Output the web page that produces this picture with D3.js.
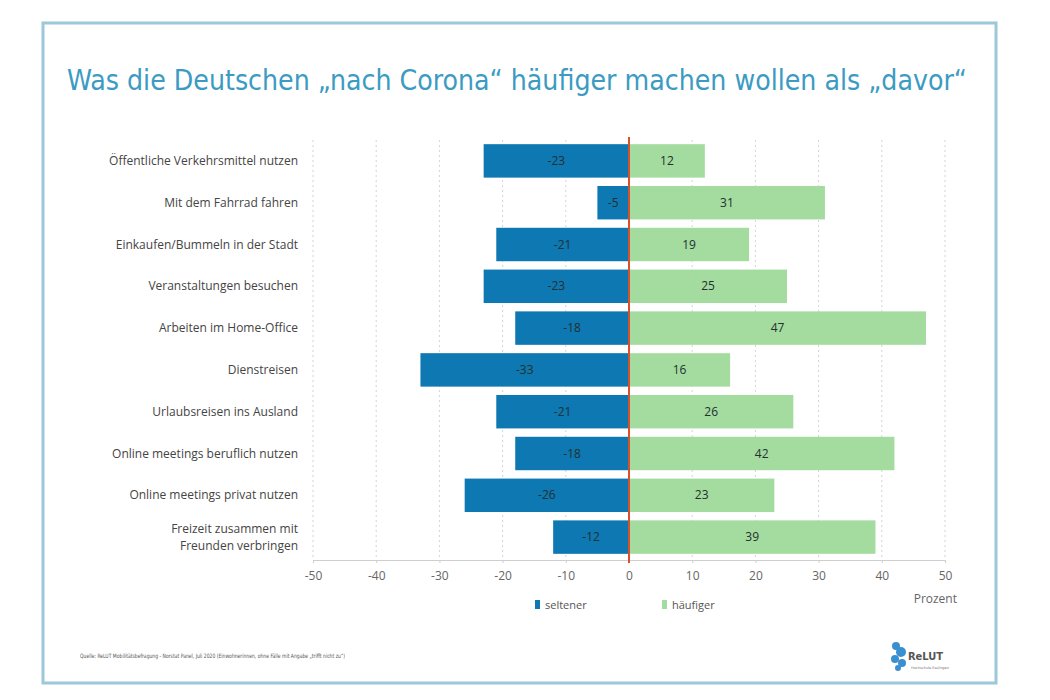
<!DOCTYPE html>
<html><head><meta charset="utf-8">
<script src="https://cdn.jsdelivr.net/npm/d3@7"></script>
<style>body{margin:0;background:#fff;} svg{display:block;}</style>
</head><body>
<svg id="c" width="1050" height="700"></svg>
<script>
const categories = [
  "Öffentliche Verkehrsmittel nutzen",
  "Mit dem Fahrrad fahren",
  "Einkaufen/Bummeln in der Stadt",
  "Veranstaltungen besuchen",
  "Arbeiten im Home-Office",
  "Dienstreisen",
  "Urlaubsreisen ins Ausland",
  "Online meetings beruflich nutzen",
  "Online meetings privat nutzen",
  "Freizeit zusammen mit|Freunden verbringen"
];
const seltener = [-23, -5, -21, -23, -18, -33, -21, -18, -26, -12];
const haeufiger = [12, 31, 19, 25, 47, 16, 26, 42, 23, 39];
const xTicks = [-50, -40, -30, -20, -10, 0, 10, 20, 30, 40, 50];
const seriesNames = ["seltener", "häufiger"];
const title = "Was die Deutschen „nach Corona“ häufiger machen wollen als „davor“";
const source = "Quelle: ReLUT Mobilitätsbefragung - Norstat Panel, Juli 2020 (Einwohnerinnen, ohne Fälle mit Angabe „trifft nicht zu“)";

const colors = {seltener: "#0d78b1", haeufiger: "#a4dca0"};
const svg = d3.select("#c");

// frame
svg.append("rect").attr("x", 43).attr("y", 23).attr("width", 953).attr("height", 660)
  .attr("fill", "#fff").attr("stroke", "#9cc8d8").attr("stroke-width", 3);

svg.append("text").attr("x", 517).attr("y", 90).attr("text-anchor", "middle")
  .attr("font-family", "DejaVu Sans Condensed, DejaVu Sans").attr("font-size", 28)
  .attr("textLength", 900).attr("lengthAdjust", "spacingAndGlyphs")
  .attr("fill", "#3b9bc2").text(title);

const x = d3.scaleLinear().domain([-50, 50]).range([313, 945]);
const y = d3.scaleBand().domain(d3.range(categories.length)).range([140, 558]).paddingInner(0.2).paddingOuter(0.1);

// gridlines
svg.append("g").selectAll("line").data(xTicks.filter(d => d !== 0)).join("line")
  .attr("x1", d => x(d)).attr("x2", d => x(d)).attr("y1", 140).attr("y2", 560)
  .attr("stroke", "#d4d4d4").attr("stroke-width", 1).attr("stroke-dasharray", "2,3");

// axis
const axis = svg.append("g").attr("transform", "translate(0,560)")
  .call(d3.axisBottom(x).tickValues(xTicks).tickFormat(d => String(d)).tickSize(3).tickPadding(8));
axis.select(".domain").attr("stroke", "#cfcfcf");
axis.selectAll(".tick line").attr("stroke", "#cfcfcf");
axis.selectAll("text").attr("font-family", "Open Sans, sans-serif").attr("font-size", 12).attr("fill", "#666");

// bars
const rows = categories.map((c, i) => ({i, c, s: seltener[i], h: haeufiger[i]}));
svg.append("g").selectAll("rect").data(rows).join("rect")
  .attr("x", d => x(d.s)).attr("width", d => x(0) - x(d.s))
  .attr("y", d => y(d.i)).attr("height", y.bandwidth()).attr("fill", colors.seltener);
svg.append("g").selectAll("rect").data(rows).join("rect")
  .attr("x", x(0)).attr("width", d => x(d.h) - x(0))
  .attr("y", d => y(d.i)).attr("height", y.bandwidth()).attr("fill", colors.haeufiger);

// bar labels
const lab = svg.append("g").attr("font-family", "Open Sans, sans-serif").attr("font-size", 12)
  .attr("text-anchor", "middle").attr("fill", "#22302f");
lab.selectAll("text.s").data(rows).join("text").attr("class", "s")
  .attr("x", d => x(d.s / 2)).attr("y", d => y(d.i) + y.bandwidth() / 2 + 4).text(d => d.s);
lab.selectAll("text.h").data(rows).join("text").attr("class", "h")
  .attr("x", d => x(d.h / 2)).attr("y", d => y(d.i) + y.bandwidth() / 2 + 4).text(d => d.h);

// category labels
const cl = svg.append("g").attr("font-family", "Open Sans, sans-serif").attr("font-size", 12)
  .attr("text-anchor", "end").attr("fill", "#444");
rows.forEach(d => {
  const parts = d.c.split("|");
  const cy = y(d.i) + y.bandwidth() / 2;
  const t = cl.append("text").attr("x", 298).attr("y", cy + 4 - (parts.length - 1) * 8);
  parts.forEach((p, k) => t.append("tspan").attr("x", 298).attr("dy", k ? 17 : 0).text(p));
});

// zero line
svg.append("line").attr("x1", x(0)).attr("x2", x(0)).attr("y1", 137).attr("y2", 563)
  .attr("stroke", "#d9512c").attr("stroke-width", 2);

// Prozent
svg.append("text").attr("x", 957).attr("y", 603).attr("text-anchor", "end")
  .attr("font-family", "Open Sans, sans-serif").attr("font-size", 12).attr("fill", "#666").text("Prozent");

// legend
const lg = svg.append("g").attr("font-family", "Open Sans, sans-serif").attr("font-size", 11).attr("fill", "#555");
[[535, colors.seltener, seriesNames[0]], [662, colors.haeufiger, seriesNames[1]]].forEach(([lx, col, name]) => {
  lg.append("rect").attr("x", lx).attr("y", 600).attr("width", 5).attr("height", 9).attr("fill", col);
  lg.append("text").attr("x", lx + 10).attr("y", 609).text(name);
});

// source
svg.append("text").attr("x", 80).attr("y", 658).attr("font-family", "DejaVu Sans Condensed, sans-serif")
  .attr("font-size", 6).attr("textLength", 265).attr("lengthAdjust", "spacingAndGlyphs")
  .attr("fill", "#555").text(source);

// logo
const logo = svg.append("g");
[[896, 646, 4], [901, 652, 5], [895, 659, 4], [902, 663, 4], [898, 668, 3]].forEach(([cx, cy, r]) =>
  logo.append("circle").attr("cx", cx).attr("cy", cy).attr("r", r).attr("fill", "#3a8fd0"));
logo.append("text").attr("x", 908).attr("y", 660).attr("font-family", "DejaVu Sans Condensed, sans-serif")
  .attr("font-size", 11).attr("font-weight", "bold").attr("fill", "#555").text("ReLUT");
logo.append("text").attr("x", 911).attr("y", 669).attr("font-family", "DejaVu Sans, sans-serif")
  .attr("font-size", 3.5).attr("fill", "#777").text("Hochschule Esslingen");
</script>
</body></html>
